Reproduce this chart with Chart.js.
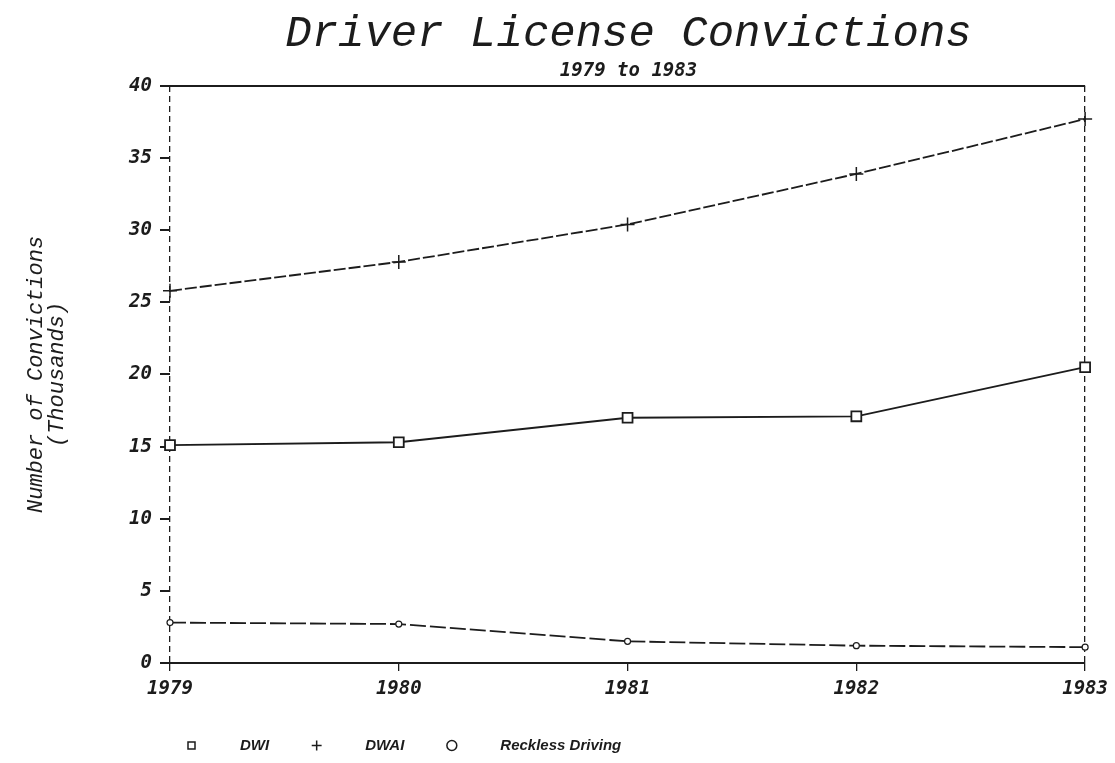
<!DOCTYPE html>
<html>
<head>
<meta charset="utf-8">
<title>Driver License Convictions</title>
<script src="https://cdn.jsdelivr.net/npm/chart.js@4/dist/chart.umd.min.js"></script>
<style>
  html, body { margin: 0; padding: 0; background: #fff; }
  #wrap { width: 1115px; height: 763px; position: relative; }
</style>
</head>
<body>
<div id="wrap"><canvas id="myChart"></canvas></div>
<script>
// Data (thousands of convictions)
const years = ['1979', '1980', '1981', '1982', '1983'];
const dwi = [15.1, 15.3, 17.0, 17.1, 20.5];
const dwai = [25.8, 27.8, 30.4, 33.9, 37.7];
const reckless = [2.8, 2.7, 1.5, 1.2, 1.1];
const yTicks = [0, 5, 10, 15, 20, 25, 30, 35, 40];

const ink = '#1c1c1c';
const monoBold = { family: "'DejaVu Sans Mono', monospace", size: 19, style: 'italic', weight: 'bold' };

// the original has its titles a bit right of centre and the legend under the plot
const nudgeBoxes = {
  id: 'nudgeBoxes',
  afterLayout(chart) {
    chart.boxes.forEach(box => {
      if (box.options && box.options.position === 'top' && box.options.text) {
        box.left += 74;
        box.right += 74;
      }
    });
    if (chart.legend) {
      chart.legend.left += 122;
    }
  }
};

const ctx = document.getElementById('myChart').getContext('2d');

const myChart = new Chart(ctx, {
  type: 'line',
  data: {
    labels: years,
    datasets: [
      {
        label: 'DWI',
        data: dwi,
        borderColor: ink,
        backgroundColor: '#fff',
        borderWidth: 1.8,
        pointStyle: 'rect',
        pointRadius: 7,
        pointBorderWidth: 1.8,
        pointBackgroundColor: '#fff',
        pointBorderColor: ink
      },
      {
        label: 'DWAI',
        data: dwai,
        borderColor: ink,
        backgroundColor: '#fff',
        borderWidth: 1.8,
        borderDash: [12, 3],
        pointStyle: 'cross',
        pointRadius: 7,
        pointBorderWidth: 1.5,
        pointBorderColor: ink
      },
      {
        label: 'Reckless Driving',
        data: reckless,
        borderColor: ink,
        backgroundColor: '#fff',
        borderWidth: 1.8,
        borderDash: [16, 4],
        pointStyle: 'circle',
        pointRadius: 3,
        pointBorderWidth: 1.2,
        pointBackgroundColor: '#fff',
        pointBorderColor: ink
      }
    ]
  },
  options: {
    responsive: true,
    maintainAspectRatio: false,
    animation: false,
    clip: false,
    layout: { padding: { left: 22, right: 28, top: 0, bottom: 0 } },
    elements: { line: { tension: 0 } },
    plugins: {
      title: {
        display: true,
        text: 'Driver License Convictions',
        color: ink,
        font: { family: "'Liberation Mono', monospace", size: 44, style: 'italic', weight: 'normal', lineHeight: 1.0 },
        padding: { top: 12, bottom: 0 }
      },
      subtitle: {
        display: true,
        text: '1979 to 1983',
        color: ink,
        font: { family: "'DejaVu Sans Mono', monospace", size: 19, style: 'italic', weight: 'bold', lineHeight: 1.1 },
        padding: { top: 5, bottom: 4 }
      },
      legend: {
        position: 'bottom',
        align: 'start',
        labels: {
          usePointStyle: true,
          boxWidth: 7,
          boxHeight: 7,
          padding: 44,
          color: ink,
          font: { family: "'Liberation Sans', sans-serif", size: 15, style: 'italic', weight: 'bold' },
          generateLabels(chart) {
            const items = Chart.defaults.plugins.legend.labels.generateLabels(chart);
            items.forEach(item => {
              item.text = '         ' + item.text;
              item.lineWidth = 1.5;
              item.lineDash = [];
            });
            return items;
          }
        }
      },
      tooltip: { enabled: false }
    },
    scales: {
      x: {
        type: 'category',
        offset: false,
        afterFit(scale) { scale.height = 31; },
        ticks: { color: ink, font: monoBold, padding: 7, maxRotation: 0 },
        grid: {
          drawOnChartArea: true,
          color: c => (c.index === 0 || c.index === years.length - 1) ? ink : 'rgba(0,0,0,0)',
          lineWidth: 1.3,
          tickColor: ink,
          tickLength: 8
        },
        border: { display: true, color: ink, width: 2, dash: [6, 4] }
      },
      y: {
        min: 0,
        max: 40,
        afterFit(scale) { scale.width = 148; },
        afterBuildTicks(scale) { scale.ticks = yTicks.map(v => ({ value: v })); },
        ticks: { color: ink, font: monoBold, padding: 8 },
        grid: {
          color: c => c.tick && c.tick.value === 40 ? ink : 'rgba(0,0,0,0)',
          lineWidth: 2,
          tickColor: ink,
          tickLength: 10
        },
        border: { display: false },
        title: {
          display: true,
          text: ['Number of Convictions', '(Thousands)'],
          color: ink,
          font: { family: "'Liberation Mono', monospace", size: 22, style: 'italic', lineHeight: 0.95 },
          padding: { top: 4, bottom: 0 }
        }
      }
    }
  },
  plugins: [nudgeBoxes]
});
</script>
</body>
</html>
